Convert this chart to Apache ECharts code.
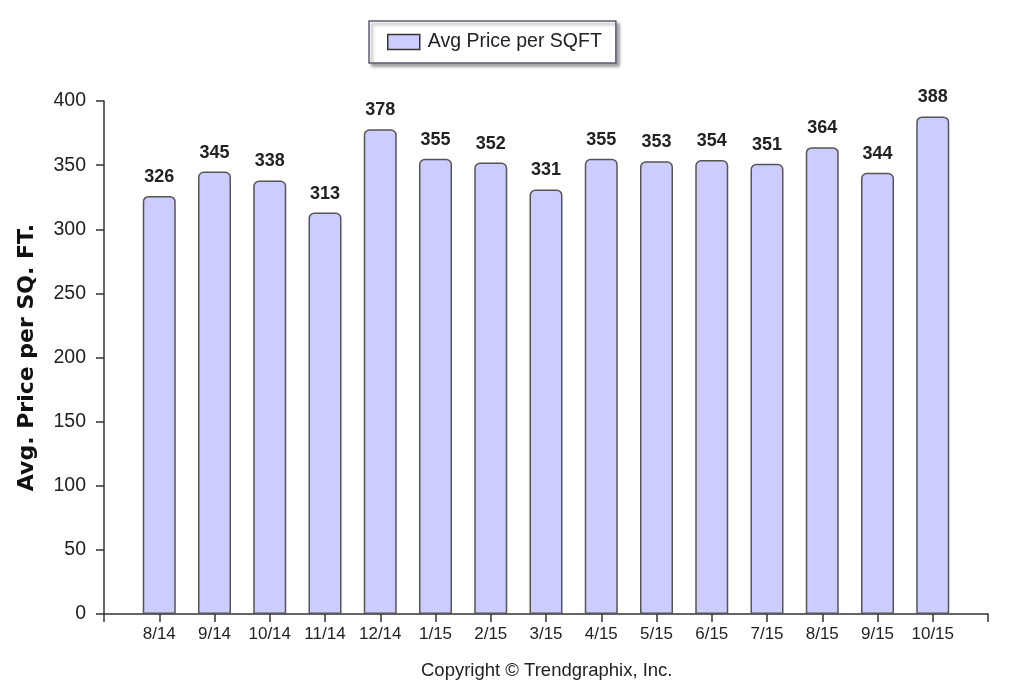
<!DOCTYPE html>
<html>
<head>
<meta charset="utf-8">
<script src="https://cdn.jsdelivr.net/npm/echarts@6/dist/echarts.min.js"></script>
<style>html,body{margin:0;padding:0;background:#fff;}#c{width:1024px;height:697px;}</style>
</head>
<body>
<div id="c"></div>
<script>
const categories = ['8/14','9/14','10/14','11/14','12/14','1/15','2/15','3/15','4/15','5/15','6/15','7/15','8/15','9/15','10/15'];
const avgPrice = [326,345,338,313,378,355,352,331,355,353,354,351,364,344,388];
const yTicks = {min: 0, max: 400, interval: 50};

const axisCats = [''].concat(categories, ['']);
const axisData = ['-'].concat(avgPrice, ['-']);

const chart = echarts.init(document.getElementById('c'));
const font = '"Liberation Sans", Arial, sans-serif';
chart.setOption({
  animation: false,
  backgroundColor: '#fff',
  grid: {left: 104, right: 36, top: 101, bottom: 83, containLabel: false},
  legend: {
    left: 369, top: 21,
    padding: [11, 14, 11, 18],
    borderColor: '#5a5f70', borderWidth: 1.5,
    backgroundColor: '#fff',
    shadowColor: 'rgba(0,0,0,0.35)', shadowBlur: 3, shadowOffsetX: 3, shadowOffsetY: 3,
    icon: 'rect', itemWidth: 32, itemHeight: 15,
    itemStyle: {borderColor: '#333', borderWidth: 1.5},
    textStyle: {fontFamily: font, fontSize: 19.5, color: '#222', padding: [0, 0, 0, 3]},
    data: ['Avg Price per SQFT']
  },
  xAxis: {
    type: 'category', data: axisCats, boundaryGap: false,
    axisLine: {lineStyle: {color: '#333', width: 1.5}},
    axisTick: {length: 8, lineStyle: {color: '#333', width: 1.5}, alignWithLabel: true},
    axisLabel: {interval: 0, fontFamily: font, fontSize: 17, color: '#222', margin: 12}
  },
  yAxis: {
    type: 'value', min: yTicks.min, max: yTicks.max, interval: yTicks.interval,
    name: 'Avg. Price per SQ. FT.', nameLocation: 'middle', nameGap: 66,
    nameTextStyle: {fontFamily: '"DejaVu Sans", sans-serif', fontWeight: 'bold', fontSize: 22, color: '#111'},
    axisLine: {show: true, lineStyle: {color: '#333', width: 1.5}},
    axisTick: {show: true, length: 8, lineStyle: {color: '#333', width: 1.5}},
    axisLabel: {fontFamily: font, fontSize: 19.5, color: '#222', margin: 18},
    splitLine: {show: false}
  },
  graphic: [{
    type: 'text', left: 421, top: 661,
    style: {text: 'Copyright \u00A9 Trendgraphix, Inc.', font: '18.5px "Liberation Sans", Arial, sans-serif', fill: '#222'}
  }],
  series: [{
    name: 'Avg Price per SQFT', type: 'bar', data: axisData, barWidth: 33,
    itemStyle: {color: '#ccccff', borderColor: '#555', borderWidth: 1.5, borderRadius: [5, 5, 0, 0]},
    label: {show: true, position: 'top', distance: 10, fontFamily: font, fontWeight: 'bold', fontSize: 18, color: '#222'}
  }]
});
</script>
</body>
</html>
